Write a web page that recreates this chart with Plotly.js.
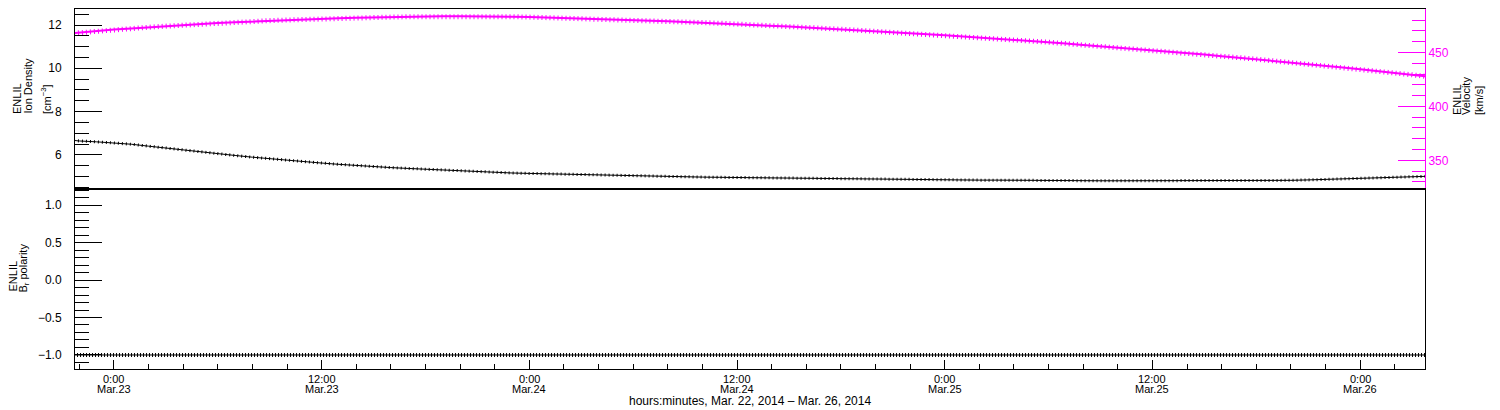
<!DOCTYPE html>
<html>
<head>
<meta charset="utf-8">
<script src="https://cdn.plot.ly/plotly-3.0.1.min.js"></script>
<style>html,body{margin:0;padding:0;background:#fff;}#chart{width:1500px;height:410px;}</style>
</head>
<body>
<div id="chart"></div>
<script>
// hourly samples starting 2014-03-22 21:00 (UT)
const density = [
  6.72, 6.64, 6.60, 6.55, 6.49, 6.40, 6.31, 6.21, 6.12, 6.04,
  5.97, 5.89, 5.82, 5.73, 5.67, 5.62, 5.56, 5.50, 5.45, 5.41,
  5.37, 5.33, 5.29, 5.25, 5.22, 5.19, 5.16, 5.14, 5.12, 5.10,
  5.08, 5.06, 5.04, 5.02, 5.01, 4.99, 4.98, 4.97, 4.96, 4.95,
  4.94, 4.93, 4.92, 4.91, 4.90, 4.88, 4.88, 4.87, 4.86, 4.85,
  4.85, 4.84, 4.84, 4.83, 4.83, 4.82, 4.82, 4.81, 4.81, 4.81,
  4.80, 4.80, 4.80, 4.80, 4.80, 4.80, 4.80, 4.80, 4.80, 4.80,
  4.81, 4.82, 4.84, 4.86, 4.89, 4.91, 4.93, 4.96, 4.98, 5.01
];
const velocity = [
  467.0, 468.5, 469.9, 471.2, 472.3, 473.4, 474.4, 475.4, 476.4, 477.4,
  478.1, 478.8, 479.5, 480.1, 480.7, 481.2, 481.7, 482.1, 482.5, 482.8,
  483.1, 483.3, 483.5, 483.6, 483.6, 483.5, 483.2, 482.8, 482.4, 482.0,
  481.5, 481.0, 480.5, 480.0, 479.5, 478.9, 478.3, 477.7, 477.1, 476.5,
  475.7, 474.9, 474.0, 473.2, 472.4, 471.5, 470.6, 469.7, 468.8, 467.9,
  467.0, 466.0, 465.0, 463.9, 462.8, 461.7, 460.6, 459.5, 458.3, 457.0,
  455.8, 454.6, 453.3, 452.0, 450.7, 449.3, 448.0, 446.6, 445.2, 443.8,
  442.3, 440.8, 439.2, 437.6, 436.1, 434.5, 432.8, 431.0, 429.3, 427.5
];
const polarity = [
  -1, -1, -1, -1, -1, -1, -1, -1, -1, -1,
  -1, -1, -1, -1, -1, -1, -1, -1, -1, -1,
  -1, -1, -1, -1, -1, -1, -1, -1, -1, -1,
  -1, -1, -1, -1, -1, -1, -1, -1, -1, -1,
  -1, -1, -1, -1, -1, -1, -1, -1, -1, -1,
  -1, -1, -1, -1, -1, -1, -1, -1, -1, -1,
  -1, -1, -1, -1, -1, -1, -1, -1, -1, -1,
  -1, -1, -1, -1, -1, -1, -1, -1, -1, -1
];
const startTime = '2014-03-22T21:00:00Z';
const times = density.map((_, i) =>
  new Date(Date.parse(startTime) + i * 3600000).toISOString().slice(0, 16).replace('T', ' '));

const xRange = ['2014-03-22 21:45', '2014-03-26 03:45'];
const tickTimes = ['2014-03-23 00:00', '2014-03-23 12:00', '2014-03-24 00:00', '2014-03-24 12:00',
                   '2014-03-25 00:00', '2014-03-25 12:00', '2014-03-26 00:00'];
const tickHours = ['0:00', '12:00', '0:00', '12:00', '0:00', '12:00', '0:00'];
const tickDates = ['Mar.23', 'Mar.23', 'Mar.24', 'Mar.24', 'Mar.25', 'Mar.25', 'Mar.26'];
const xTitle = 'hours:minutes, Mar. 22, 2014 \u2013 Mar. 26, 2014';

const MAG = '#ff00ff';
const FONT = 'Liberation Sans, Arial, sans-serif';

const traces = [
  {x: times, y: velocity, xaxis: 'x', yaxis: 'y2', mode: 'lines', line: {color: MAG, width: 2}, hoverinfo: 'skip'},
  {x: times, y: velocity, xaxis: 'x', yaxis: 'y2', mode: 'lines', line: {color: MAG, width: 5, dash: '1px,3px'}, hoverinfo: 'skip'},
  {x: times, y: density, xaxis: 'x', yaxis: 'y', mode: 'lines', line: {color: '#000', width: 1}, hoverinfo: 'skip'},
  {x: times, y: density, xaxis: 'x', yaxis: 'y', mode: 'lines', line: {color: '#000', width: 3, dash: '1px,3px'}, hoverinfo: 'skip'},
  {x: times, y: polarity, xaxis: 'x2', yaxis: 'y3', mode: 'lines', line: {color: '#000', width: 1}, hoverinfo: 'skip'},
  {x: times, y: polarity, xaxis: 'x2', yaxis: 'y3', mode: 'lines', line: {color: '#000', width: 4, dash: '1px,2px'}, hoverinfo: 'skip'}
];

// plot area: x 75..1425 px, y 9..369 px
const px = v => (v - 75) / 1350;
const py = v => (369 - v) / 360;

const annotations = [];
tickTimes.forEach((t, i) => {
  annotations.push({x: t, xref: 'x2', y: py(379), yref: 'paper', text: tickHours[i], showarrow: false,
    xanchor: 'center', yanchor: 'middle', font: {family: FONT, size: 11, color: '#000'}});
  annotations.push({x: t, xref: 'x2', y: py(388.5), yref: 'paper', text: tickDates[i], showarrow: false,
    xanchor: 'center', yanchor: 'middle', font: {family: FONT, size: 11, color: '#000'}});
});
annotations.push({x: 0.5, xref: 'paper', y: py(401), yref: 'paper', text: xTitle, showarrow: false,
  xanchor: 'center', yanchor: 'middle', font: {family: FONT, size: 12, color: '#000'}});

function rotTitle(text, xpx, ybpx) {
  return {x: px(xpx), xref: 'paper', y: py(ybpx), yref: 'paper', text: text, showarrow: false,
    textangle: -90, xanchor: 'center', yanchor: 'bottom', font: {family: FONT, size: 11, color: '#000'}};
}
annotations.push(rotTitle('ENLIL', 16.5, 116));
annotations.push(rotTitle('Ion Density', 27.5, 116));
annotations.push(rotTitle('[cm<sup>\u22123</sup>]', 46, 116));
annotations.push(rotTitle('ENLIL', 12, 294));
annotations.push(rotTitle('B<sub>r</sub> polarity', 23, 294));
annotations.push(rotTitle('ENLIL', 1456.5, 117));
annotations.push(rotTitle('Velocity', 1466, 117));
annotations.push(rotTitle('[km/s]', 1478.5, 117));

const tickFont = {family: FONT, size: 12, color: '#000'};

const layout = {
  width: 1500, height: 410,
  margin: {l: 75, r: 75, t: 9, b: 41, pad: 0},
  paper_bgcolor: '#fff', plot_bgcolor: '#fff',
  showlegend: false,
  xaxis: {
    type: 'date', range: xRange, domain: [0, 1], anchor: 'y',
    showline: true, mirror: true, linecolor: '#000', linewidth: 1,
    ticks: '', showticklabels: false, showgrid: false, zeroline: false
  },
  yaxis: {
    domain: [0.5, 1], anchor: 'x', range: [4.42, 12.74],
    showline: true, mirror: false, linecolor: '#000', linewidth: 1,
    tickmode: 'linear', tick0: 0, dtick: 2,
    ticks: 'inside', ticklen: 27, tickwidth: 1, tickcolor: '#000',
    ticklabelstandoff: 10,
    minor: {tickmode: 'linear', tick0: 0, dtick: 0.5, ticks: 'inside', ticklen: 14, tickwidth: 1, tickcolor: '#000', showgrid: false},
    tickfont: tickFont, showgrid: false, zeroline: false
  },
  yaxis2: {
    overlaying: 'y', side: 'right', anchor: 'x', range: [323.4, 490.3],
    showline: true, linecolor: MAG, linewidth: 1,
    tickmode: 'linear', tick0: 0, dtick: 50,
    ticks: 'inside', ticklen: 27, tickwidth: 1, tickcolor: MAG,
    minor: {tickmode: 'linear', tick0: 0, dtick: 10, ticks: 'inside', ticklen: 13, tickwidth: 1, tickcolor: MAG, showgrid: false},
    tickfont: {family: FONT, size: 12, color: MAG}, showgrid: false, zeroline: false
  },
  xaxis2: {
    type: 'date', range: xRange, domain: [0, 1], anchor: 'y3',
    showline: true, mirror: true, linecolor: '#000', linewidth: 1,
    tickmode: 'array', tickvals: tickTimes, showticklabels: false,
    ticks: 'inside', ticklen: 9, tickwidth: 1, tickcolor: '#000',
    minor: {tickmode: 'linear', tick0: '2014-03-22 22:00', dtick: 7200000, ticks: 'inside', ticklen: 5, tickwidth: 1, tickcolor: '#000', showgrid: false},
    showgrid: false, zeroline: false
  },
  yaxis3: {
    domain: [0, 0.5], anchor: 'x2', range: [-1.187, 1.214],
    showline: true, mirror: true, linecolor: '#000', linewidth: 1,
    tickmode: 'linear', tick0: 0, dtick: 0.5, tickformat: '.1f',
    ticks: 'inside', ticklen: 27, tickwidth: 1, tickcolor: '#000',
    ticklabelstandoff: 10,
    minor: {tickmode: 'linear', tick0: 0, dtick: 0.1, ticks: 'inside', ticklen: 14, tickwidth: 1, tickcolor: '#000', showgrid: false},
    tickfont: tickFont, showgrid: false, zeroline: false
  },
  annotations: annotations
};

Plotly.newPlot('chart', traces, layout, {staticPlot: true, displayModeBar: false});
</script>
</body>
</html>
